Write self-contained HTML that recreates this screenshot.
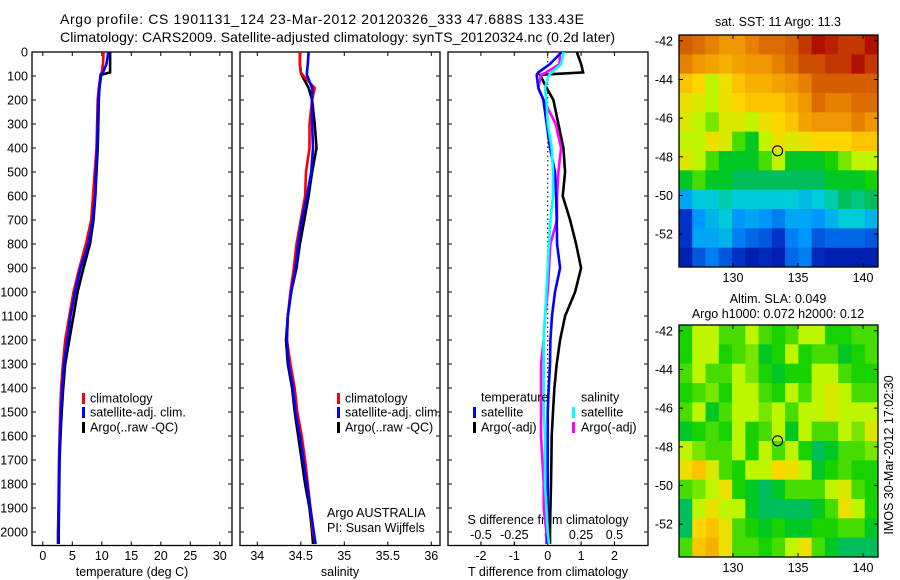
<!DOCTYPE html>
<html><head><meta charset="utf-8"><style>
html,body{margin:0;padding:0;background:#fff;}
svg{display:block;font-family:"Liberation Sans",Arial,sans-serif;}
</style></head><body>
<svg id="chart" width="900" height="580" viewBox="0 0 900 580" xmlns="http://www.w3.org/2000/svg">
<text x="60" y="24" font-size="14" textLength="524">Argo profile: CS 1901131_124 23-Mar-2012 20120326_333 47.688S 133.43E</text>
<text x="60" y="42" font-size="14" textLength="555">Climatology: CARS2009. Satellite-adjusted climatology: synTS_20120324.nc (0.2d later)</text>
<g id="g"></g>
</svg>
<script>
// ---------- data ----------
const depths = [0,50,85,95,150,200,300,400,500,600,700,800,900,1000,1100,1200,1300,1400,1500,1600,1700,1800,1900,2000,2050];
const tempClim = [10.3,10.2,10.0,9.8,9.5,9.3,9.2,9.1,8.8,8.5,8.2,7.3,6.2,5.2,4.5,3.8,3.4,3.1,2.95,2.85,2.75,2.7,2.65,2.6,2.6];
const tempSat = [11.1,10.8,10.2,9.8,9.6,9.4,9.3,9.2,9.0,8.9,8.45,7.7,6.4,5.45,4.7,4.15,3.6,3.3,3.1,2.9,2.8,2.75,2.7,2.6,2.6];
const tempArgo = [11.4,11.4,11.4,9.9,9.6,9.5,9.4,9.3,9.1,8.9,8.6,8.0,6.9,5.9,5.2,4.5,3.8,3.45,3.2,3.0,2.85,2.8,2.75,2.7,2.7];
const salClim = [34.49,34.49,34.5,34.52,34.66,34.63,34.6,34.6,34.56,34.55,34.5,34.45,34.42,34.38,34.35,34.34,34.38,34.43,34.46,34.51,34.55,34.58,34.61,34.64,34.67];
const salSat = [34.59,34.58,34.57,34.57,34.63,34.63,34.63,34.64,34.62,34.57,34.51,34.47,34.44,34.39,34.35,34.34,34.36,34.41,34.44,34.49,34.53,34.57,34.61,34.65,34.67];
const salArgo = [34.49,34.49,34.5,34.51,34.59,34.63,34.66,34.68,34.63,34.59,34.54,34.49,34.45,34.39,34.35,34.33,34.35,34.4,34.43,34.47,34.51,34.55,34.6,34.63,34.64];
const tDiffSat = [0.42,0.07,-0.28,-0.33,-0.28,-0.13,-0.03,0.07,0.22,0.25,0.27,0.28,0.37,0.22,0.13,0.08,0.07,0.03,0,0,0,0,0,0,0];
const tDiffArgo = [0.87,1.0,1.06,-0.23,-0.03,0.17,0.32,0.47,0.52,0.45,0.67,0.85,1.0,0.82,0.52,0.37,0.27,0.2,0.16,0.12,0.11,0.1,0.08,0.07,0.07];
const sDiffSat = [0.12,0.1,0.03,0.01,-0.02,-0.01,0,0.03,0.04,0.04,0.02,0.01,0,-0.01,-0.02,-0.03,-0.03,-0.03,-0.03,-0.02,-0.02,-0.02,-0.01,0,0.01];
const sDiffArgo = [0.09,0.09,-0.01,-0.05,-0.07,-0.03,0.06,0.1,0.08,0.07,0.07,0.02,0.01,0,-0.02,-0.03,-0.05,-0.05,-0.05,-0.05,-0.04,-0.03,-0.03,-0.01,-0.01];
const depthTicks = [0,100,200,300,400,500,600,700,800,900,1000,1100,1200,1300,1400,1500,1600,1700,1800,1900,2000];
const tempTicks = [0,5,10,15,20,25,30];
const salTicks = [34,34.5,35,35.5,36];
const tDiffTicks = [-2,-1,0,1,2];
const sDiffTicks = [-0.5,-0.25,0,0.25,0.5];
const sDiffTickLabels = ["-0.5","-0.25","0","0.25","0.5"];
const latTicks = [-42,-44,-46,-48,-50,-52];
const lonTicks = [130,135,140];
const floatLon = 133.43, floatLat = -47.688;
// SST map (normalized colour index), rows from -42 southwards, cols 126..141
const sstGrid = [
[0.8,0.78,0.75,0.72,0.72,0.75,0.78,0.78,0.8,0.85,0.9,0.88,0.85,0.85,0.9],
[0.75,0.72,0.7,0.68,0.7,0.72,0.72,0.75,0.78,0.82,0.82,0.85,0.85,0.9,0.85],
[0.65,0.62,0.55,0.6,0.65,0.68,0.68,0.7,0.72,0.75,0.8,0.8,0.8,0.8,0.8],
[0.6,0.58,0.55,0.6,0.62,0.65,0.65,0.65,0.68,0.72,0.78,0.75,0.75,0.78,0.78],
[0.58,0.55,0.52,0.58,0.58,0.55,0.6,0.62,0.65,0.7,0.72,0.72,0.72,0.75,0.72],
[0.55,0.55,0.6,0.58,0.5,0.45,0.55,0.6,0.58,0.6,0.62,0.62,0.62,0.65,0.65],
[0.58,0.55,0.5,0.45,0.45,0.45,0.5,0.55,0.45,0.45,0.45,0.48,0.52,0.55,0.55],
[0.45,0.5,0.45,0.45,0.42,0.42,0.42,0.42,0.42,0.42,0.42,0.45,0.45,0.45,0.48],
[0.3,0.35,0.35,0.38,0.35,0.35,0.35,0.35,0.35,0.33,0.35,0.38,0.42,0.4,0.42],
[0.15,0.28,0.32,0.35,0.28,0.3,0.28,0.25,0.3,0.3,0.28,0.32,0.35,0.35,0.32],
[0.15,0.3,0.3,0.32,0.25,0.22,0.2,0.15,0.25,0.28,0.2,0.22,0.22,0.22,0.2],
[0.1,0.2,0.25,0.2,0.15,0.1,0.12,0.1,0.22,0.25,0.12,0.1,0.1,0.1,0.1]];
const slaGrid = [
[0.48,0.55,0.55,0.5,0.5,0.55,0.5,0.48,0.5,0.55,0.55,0.48,0.48,0.5,0.5],
[0.48,0.55,0.55,0.48,0.5,0.52,0.45,0.48,0.55,0.48,0.5,0.5,0.45,0.48,0.5],
[0.5,0.55,0.5,0.5,0.55,0.52,0.48,0.45,0.48,0.48,0.55,0.55,0.5,0.48,0.48],
[0.48,0.5,0.52,0.48,0.55,0.55,0.5,0.48,0.55,0.5,0.55,0.58,0.55,0.5,0.5],
[0.5,0.55,0.45,0.5,0.55,0.55,0.52,0.55,0.5,0.55,0.55,0.58,0.55,0.55,0.55],
[0.45,0.48,0.5,0.48,0.55,0.48,0.5,0.55,0.45,0.55,0.5,0.5,0.55,0.52,0.58],
[0.55,0.52,0.5,0.5,0.55,0.48,0.55,0.5,0.55,0.48,0.42,0.45,0.5,0.5,0.52],
[0.6,0.65,0.58,0.5,0.48,0.55,0.55,0.62,0.6,0.55,0.45,0.48,0.5,0.48,0.48],
[0.5,0.52,0.55,0.6,0.48,0.45,0.42,0.45,0.5,0.5,0.5,0.55,0.58,0.5,0.48],
[0.42,0.55,0.6,0.55,0.55,0.45,0.42,0.42,0.42,0.42,0.45,0.5,0.6,0.55,0.48],
[0.42,0.62,0.65,0.6,0.5,0.48,0.45,0.48,0.45,0.45,0.48,0.48,0.5,0.5,0.45],
[0.5,0.65,0.68,0.6,0.5,0.5,0.48,0.5,0.55,0.6,0.5,0.45,0.42,0.42,0.42]];

// ---------- helpers ----------
const NS="http://www.w3.org/2000/svg";
const root=document.getElementById('g');
function mk(tag,attrs,parent){const e=document.createElementNS(NS,tag);for(const k in attrs)e.setAttribute(k,attrs[k]);(parent||root).appendChild(e);return e;}
function txt(x,y,s,size,anchor,parent){const t=mk('text',{x:x,y:y,'font-size':size,'text-anchor':anchor||'start'},parent);t.textContent=s;return t;}

const PT=52, PB=545.5;
const yD=d=>PT+(d/100)*24;
const panels=[
 {x0:32,x1:232,name:'temperature-panel'},
 {x0:240,x1:440,name:'salinity-panel'},
 {x0:448,x1:648,name:'difference-panel'}];
const xT=v=>42.8+v*5.9;
const xS=v=>257.3+(v-34)*87;
const xTD=v=>547.7+v*33.4;
const xSD=v=>547.7+v*133.5;

panels.forEach((p,i)=>{
  const g=mk('g',{});
  
  
  const r=mk('rect',{x:p.x0,y:PT,width:p.x1-p.x0,height:PB-PT,fill:'#fff',stroke:'#000','stroke-width':1.3},g);
  
  
  depthTicks.forEach(d=>{
    const y=yD(d);
    mk('line',{x1:p.x0,x2:p.x0+4,y1:y,y2:y,stroke:'#000'},g);
    mk('line',{x1:p.x1,x2:p.x1-4,y1:y,y2:y,stroke:'#000'},g);
    if(i===0){const t=txt(28,y+4.5,String(d),12.5,'end',g);
      
      }
  });
});

function xticks(vals,labels,fx,ybase,ylabel,size){
  vals.forEach((v,k)=>{
    const x=fx(v);
    mk('line',{x1:x,x2:x,y1:PT,y2:PT+4,stroke:'#000'});
    mk('line',{x1:x,x2:x,y1:PB,y2:PB-4,stroke:'#000'});
    const t=txt(x,ylabel,labels[k],size,'middle');
    
    
  });
}
xticks(tempTicks,tempTicks.map(String),xT,PB,560,12.5);
xticks(salTicks,salTicks.map(String),xS,PB,560,12.5);
xticks(tDiffTicks,tDiffTicks.map(String),xTD,PB,560,12.5);
sDiffTicks.forEach((v,k)=>{
  const x=xSD(v);
  mk('line',{x1:x,x2:x,y1:PB,y2:PB-4,stroke:'#000'});
  const t=txt(x,539,sDiffTickLabels[k],12.5,'middle');
  
  
});
let t;
t=txt(132,576,'temperature (deg C)',12.5,'middle');


t=txt(340,576,'salinity',12.5,'middle');


t=txt(548,576,'T difference from climatology',12.5,'middle');


t=txt(548,524,'S difference from climatology',12.5,'middle');



// zero dotted line
const zl=mk('line',{x1:xTD(0),x2:xTD(0),y1:PT,y2:PB,stroke:'#000','stroke-dasharray':'1.5,3','stroke-width':1});



function profile(vals,fx,color,name){
  const pts=vals.map((v,k)=>fx(v).toFixed(1)+','+yD(depths[k]).toFixed(1)).join(' ');
  const pl=mk('polyline',{points:pts,fill:'none',stroke:color,'stroke-width':2.6,'stroke-linejoin':'miter'});
  
  
}
profile(tempArgo,xT,'#000','temp-argo-line');
profile(tempClim,xT,'#f00','temp-climatology-line');
profile(tempSat,xT,'#00f','temp-satellite-line');
profile(salArgo,xS,'#000','sal-argo-line');
profile(salClim,xS,'#f00','sal-climatology-line');
profile(salSat,xS,'#00f','sal-satellite-line');
profile(tDiffArgo,xTD,'#000','tdiff-argo-line');
profile(sDiffArgo,xSD,'#f0f','sdiff-argo-line');
profile(tDiffSat,xTD,'#00f','tdiff-satellite-line');
profile(sDiffSat,xSD,'#0ff','sdiff-satellite-line');

function legendEntry(xb,xt,y,color,label){
  const g=mk('g',{});
  
  
  if(color) mk('rect',{x:xb,y:y-5,width:3,height:11,fill:color},g);
  txt(xt,y+4.5,label,12.5,'start',g);
}
legendEntry(82,90,398,'#f00','climatology');
legendEntry(82,90,412,'#00f','satellite-adj. clim.');
legendEntry(82,90,427,'#000','Argo(..raw -QC)');
legendEntry(337,345,398,'#f00','climatology');
legendEntry(337,345,412,'#00f','satellite-adj. clim.');
legendEntry(337,345,427,'#000','Argo(..raw -QC)');
legendEntry(0,481,397,null,'temperature');
legendEntry(473,481,412,'#00f','satellite');
legendEntry(473,481,427,'#000','Argo(-adj)');
legendEntry(0,581,397,null,'salinity');
legendEntry(572,581,412,'#0ff','satellite');
legendEntry(572,581,427,'#f0f','Argo(-adj)');
t=txt(327,517,'Argo AUSTRALIA',12.5);


t=txt(327,532,'PI: Susan Wijffels',12.5);



// ---------- maps ----------
const cstops=[[0,[0,0,128]],[0.15,[0,50,200]],[0.28,[0,150,255]],[0.36,[0,210,210]],[0.42,[0,190,90]],[0.47,[0,205,0]],[0.55,[190,245,0]],[0.62,[255,215,0]],[0.72,[240,150,0]],[0.82,[205,80,0]],[0.92,[170,0,0]],[1,[130,0,0]]];
function cmap(v){for(let i=1;i<cstops.length;i++){if(v<=cstops[i][0]){const a=cstops[i-1],b=cstops[i];const f=(v-a[0])/(b[0]-a[0]);const c=a[1].map((q,j)=>Math.round(q+(b[1][j]-q)*f));return 'rgb('+c.join(',')+')';}}return 'rgb(130,0,0)';}
const lonMin=125.85, lonMax=141.15, latTop=-41.7, latBot=-53.7;
function drawMap(grid,mx0,mx1,my0,my1,name){
  const g=mk('g',{});
  
  
  const fx=l=>mx0+(l-lonMin)/(lonMax-lonMin)*(mx1-mx0);
  const fy=l=>my0+(latTop-l)/(latTop-latBot)*(my1-my0);
  const nr=grid.length,nc=grid[0].length;
  const dl=(lonMax-lonMin)/nc, dlat=(latTop-latBot)/nr;
  grid.forEach((row,r)=>row.forEach((v,c)=>{
    const x0=fx(lonMin+c*dl), x1=fx(lonMin+(c+1)*dl);
    const y0=fy(latTop-r*dlat), y1=fy(latTop-(r+1)*dlat);
    const cell=mk('rect',{x:x0,y:y0,width:x1-x0+0.5,height:y1-y0+0.5,fill:cmap(v)},g);
    
    
  }));
  mk('rect',{x:mx0,y:my0,width:mx1-mx0,height:my1-my0,fill:'none',stroke:'#000','stroke-width':1.3},g);
  latTicks.forEach(l=>{const y=fy(l);
    mk('line',{x1:mx0,x2:mx0+4,y1:y,y2:y,stroke:'#000'},g);
    mk('line',{x1:mx1,x2:mx1-4,y1:y,y2:y,stroke:'#000'},g);
    const tl=txt(mx0-6,y+4.5,String(l),12.5,'end',g);
    
    });
  lonTicks.forEach(l=>{const x=fx(l);
    mk('line',{x1:x,x2:x,y1:my0,y2:my0+4,stroke:'#000'},g);
    mk('line',{x1:x,x2:x,y1:my1,y2:my1-4,stroke:'#000'},g);
    const tl=txt(x,my1+15,String(l),12.5,'middle',g);
    
    });
  const c=mk('circle',{cx:fx(floatLon),cy:fy(floatLat),r:5,fill:'none',stroke:'#000','stroke-width':1.1},g);
  
  
}
drawMap(sstGrid,679,878,35,267,'sst-map');
drawMap(slaGrid,679,878,325,557,'sla-map');
t=txt(778,26,'sat. SST: 11 Argo: 11.3',12.5,'middle');


t=txt(778,303,'Altim. SLA: 0.049',12.5,'middle');


t=txt(778,318,'Argo h1000: 0.072 h2000: 0.12',12.5,'middle');


t=txt(0,0,'IMOS 30-Mar-2012 17:02:30',12.5,'middle');
t.setAttribute('transform','translate(893,455) rotate(-90)');


</script>
</body></html>
